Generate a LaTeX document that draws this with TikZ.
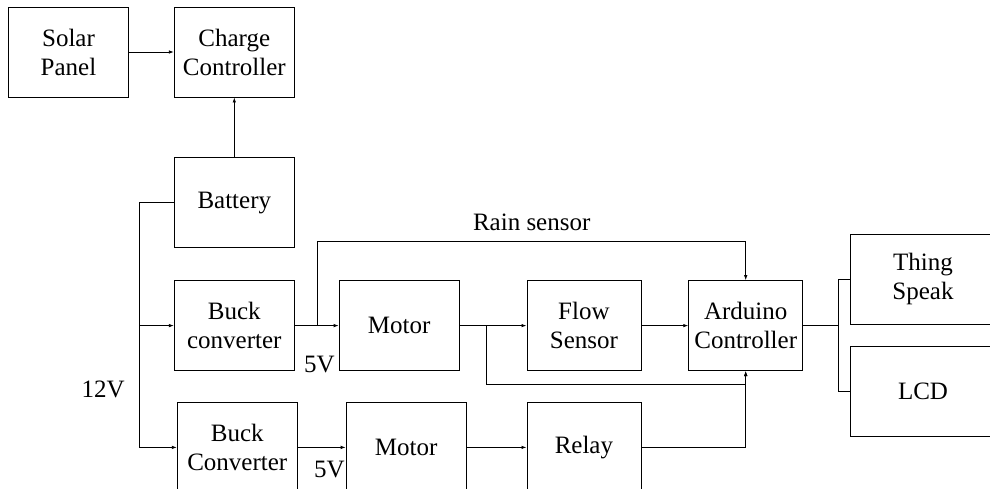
\documentclass[tikz,border=0pt]{standalone}
\usepackage{fontspec}
\setmainfont{Liberation Serif}
\usetikzlibrary{positioning,calc,arrows.meta}
\tikzset{
  block/.style={draw, line width=0.8pt, minimum width=120pt, minimum height=90pt, align=center, inner sep=2pt},
  narrow/.style={block, minimum width=114pt},
  wide/.style={block, minimum width=145pt},
  link/.style={line width=0.8pt},
  flow/.style={link, -{Latex[length=5pt,width=3.5pt]}}
}
\begin{document}
\begin{tikzpicture}[font=\fontsize{25}{29}\selectfont, node distance=45pt]
  \useasboundingbox (0,0) rectangle (990pt,-488pt);
  % power side
  \node[block] (solar) at (68.5pt,-52pt) {Solar\\Panel};
  \node[block, right=45pt of solar] (charge) {Charge\\Controller};
  \node[block, below=60pt of charge] (battery) {Battery};
  % first branch: pump motor and flow sensor
  \node[block, below=32pt of battery] (buck1) {Buck\\converter};
  \node[block, right=44pt of buck1] (motor1) {Motor};
  \node[narrow, right=67pt of motor1] (flowsens) {Flow\\Sensor};
  \node[narrow, right=47pt of flowsens] (arduino) {Arduino\\Controller};
  % second branch: motor and relay
  \node[block, below=31pt of buck1, xshift=3pt] (buck2) {Buck\\Converter};
  \node[block, right=48pt of buck2] (motor2) {Motor};
  \node[narrow, below=31pt of flowsens] (relay) {Relay};
  % outputs
  \node[wide, right=47pt of arduino, yshift=46.5pt] (thing) {Thing\\Speak};
  \node[wide, right=47pt of arduino, yshift=-66pt] (lcd) {LCD};
  % voltage labels
  \node[anchor=base west] (v5a) at ($(buck1.south east)+(6pt,-1pt)$) {5V};
  \node[anchor=base west] (v5b) at ($(buck2.east)+(13pt,-30pt)$) {5V};
  \node[anchor=base west] (v12) at (78pt,-397pt) {12V};
  % junction points
  \coordinate (bus) at ($(battery.west)+(-35pt,0)$);
  \coordinate (rsplit) at ($(buck1.east)+(23pt,0)$);
  \coordinate (rtop) at ($(arduino.north)+(0,39pt)$);
  \coordinate (msplit) at ($(motor1.east)+(27pt,0)$);
  \coordinate (mlow) at ($(arduino.south)+(0,-13pt)$);
  \coordinate (osplit) at ($(arduino.east)+(35pt,0)$);
  % connectors
  \draw[flow] (solar) -- (charge);
  \draw[flow] (battery) -- (charge);
  \draw[link] (battery.west) -- (bus);
  \draw[flow] (bus) |- (buck1.west);
  \draw[flow] (bus) |- (buck2.west);
  \draw[flow] (buck1) -- (motor1);
  \draw[link] (rsplit) |- (rtop) node[pos=0.75, above=7pt] (rain) {Rain sensor};
  \draw[flow] (rtop) -- (arduino.north);
  \draw[flow] (motor1) -- (flowsens);
  \draw[link] (msplit) |- (mlow);
  \draw[flow] (mlow) -- (arduino.south);
  \draw[flow] (flowsens) -- (arduino);
  \draw[flow] (buck2) -- (motor2);
  \draw[flow] (motor2) -- (relay);
  \draw[flow] (relay.east) -| (arduino.south);
  \draw[link] (arduino.east) -- (osplit);
  \draw[link] (osplit) |- (thing.west);
  \draw[link] (osplit) |- (lcd.west);
\end{tikzpicture}
\end{document}
